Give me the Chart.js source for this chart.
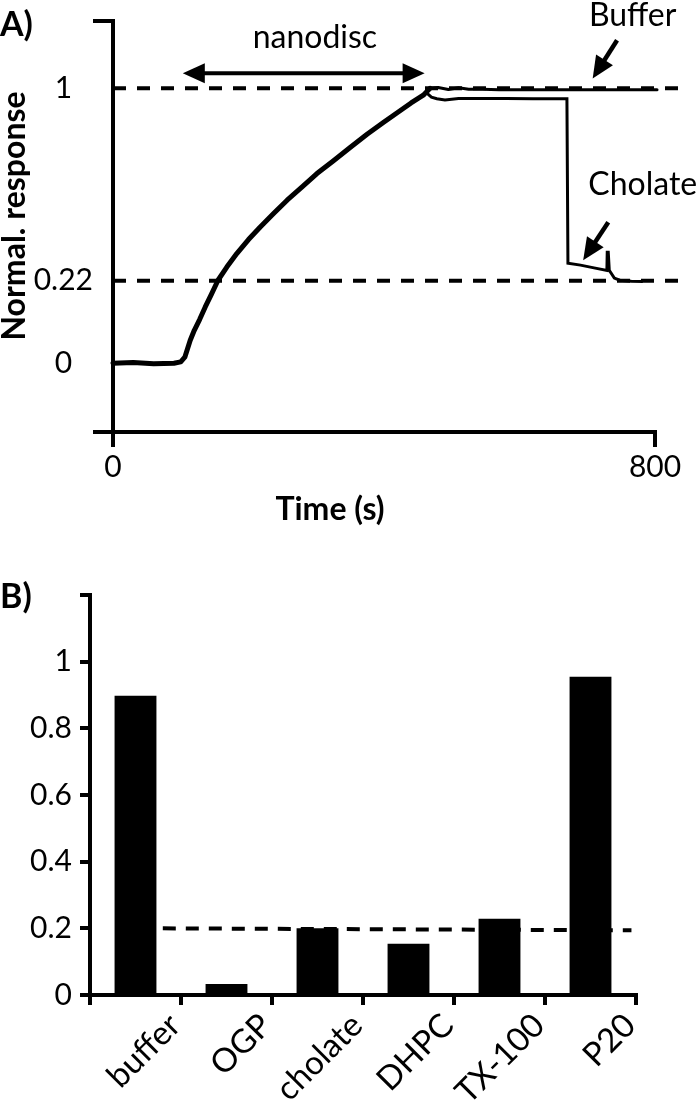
<!DOCTYPE html>
<html>
<head>
<meta charset="utf-8">
<script src="https://cdn.jsdelivr.net/npm/chart.js@4.4.1/dist/chart.umd.min.js"></script>
<style>
  html, body { margin: 0; padding: 0; background: #fff; }
  canvas { position: absolute; left: 0; display: block; }
  #panelA { top: 0; }
  #panelB { top: 545px; }
</style>
</head>
<body>
<canvas id="panelA" width="700" height="545"></canvas>
<canvas id="panelB" width="700" height="559"></canvas>
<script>
// ---------------- Panel A data (time in s, normalised response) ----------------
const bufferTime = [0, 30, 60, 90, 100, 106, 114, 120, 128, 136, 145, 155, 168, 183, 200, 217, 237, 257, 280, 301, 325, 350, 375, 399, 420, 440, 458, 468, 480, 495, 510, 525, 545, 570, 600, 650, 700, 750, 803];
const bufferResp = [0, 0.003, -0.002, 0, 0.005, 0.022, 0.084, 0.12, 0.16, 0.204, 0.25, 0.302, 0.35, 0.40, 0.45, 0.495, 0.545, 0.593, 0.643, 0.69, 0.736, 0.785, 0.833, 0.876, 0.912, 0.947, 0.975, 1.0, 1.003, 0.996, 1.002, 0.997, 0.997, 0.995, 0.995, 0.995, 0.995, 0.995, 0.995];
const cholateTime = [462, 470, 478, 490, 510, 540, 580, 620, 670, 671.5, 690, 710, 729, 729.5, 731, 732.5, 740, 748, 765, 782];
const cholateResp = [0.985, 0.968, 0.962, 0.958, 0.963, 0.963, 0.963, 0.962, 0.962, 0.364, 0.357, 0.347, 0.338, 0.404, 0.404, 0.338, 0.31, 0.302, 0.298, 0.297];
const refLineTime = [0, 841];
const refLevelFull = 1;       // "1" dashed line
const refLevelCholate = 0.30; // "0.22" dashed line (as drawn)
const xTickValues = [0, 800];
const xTickLabels = ['0', '800'];
const yTickValues = [0, 0.30, 1];
const yTickLabels = ['0', '0.22', '1'];

// ---------------- Panel B data ----------------
const categories = ['buffer', 'OGP', 'cholate', 'DHPC', 'TX-100', 'P20'];
const barValues = [0.898, 0.033, 0.200, 0.154, 0.229, 0.955];
const thresholdPos = [0.3, 5.45];       // in category index units
const thresholdValues = [0.2, 0.194];
const barYTickStep = 0.2;

// ---------------- Annotation placement (data units of panel A) ----------------
const nanodiscArrow = { from: 103, to: 460, y: 1.055 };
const nanodiscText = { t: 298, v: 1.185, text: 'nanodisc' };
const bufferArrow = { t1: 744, v1: 1.175, t2: 708, v2: 1.036 };
const bufferText = { t: 767, v: 1.265, text: 'Buffer' };
const cholateArrow = { t1: 731, v1: 0.513, t2: 694, v2: 0.375 };
const cholateText = { t: 782, v: 0.651, text: 'Cholate' };

Chart.defaults.font.family = "Lato, 'Open Sans', sans-serif";
Chart.defaults.color = '#000';

function arrowHead(ctx, x1, y1, x2, y2, len, half) {
  const a = Math.atan2(y2 - y1, x2 - x1);
  ctx.beginPath();
  ctx.moveTo(x2, y2);
  ctx.lineTo(x2 - len * Math.cos(a) + half * Math.sin(a), y2 - len * Math.sin(a) - half * Math.cos(a));
  ctx.lineTo(x2 - len * Math.cos(a) - half * Math.sin(a), y2 - len * Math.sin(a) + half * Math.cos(a));
  ctx.closePath();
  ctx.fill();
}
function arrow(ctx, x1, y1, x2, y2, both, w) {
  const len = 22, half = 10;
  const a = Math.atan2(y2 - y1, x2 - x1);
  const sx = both ? x1 + Math.cos(a) * len / 2 : x1;
  const sy = both ? y1 + Math.sin(a) * len / 2 : y1;
  ctx.lineWidth = w;
  ctx.beginPath();
  ctx.moveTo(sx, sy);
  ctx.lineTo(x2 - Math.cos(a) * len / 2, y2 - Math.sin(a) * len / 2);
  ctx.stroke();
  arrowHead(ctx, x1, y1, x2, y2, len, half);
  if (both) arrowHead(ctx, x2, y2, x1, y1, len, half);
}

const annotA = {
  id: 'annotA',
  afterDraw(chart) {
    const { ctx, scales: { x, y } } = chart;
    const X = v => x.getPixelForValue(v), Y = v => y.getPixelForValue(v);
    ctx.save();
    ctx.fillStyle = '#000';
    ctx.strokeStyle = '#000';
    arrow(ctx, X(nanodiscArrow.from), Y(nanodiscArrow.y), X(nanodiscArrow.to), Y(nanodiscArrow.y), true, 4);
    arrow(ctx, X(bufferArrow.t1), Y(bufferArrow.v1), X(bufferArrow.t2), Y(bufferArrow.v2), false, 4.5);
    arrow(ctx, X(cholateArrow.t1), Y(cholateArrow.v1), X(cholateArrow.t2), Y(cholateArrow.v2), false, 4.5);
    ctx.font = "32px Lato, 'Open Sans', sans-serif";
    ctx.textAlign = 'center';
    ctx.textBaseline = 'middle';
    [nanodiscText, bufferText, cholateText].forEach(o => ctx.fillText(o.text, X(o.t), Y(o.v)));
    // axis titles
    ctx.font = "bold 32px Lato, 'Open Sans', sans-serif";
    ctx.fillText('Time (s)', 330, 510);
    ctx.save();
    ctx.translate(15, 216);
    ctx.rotate(-Math.PI / 2);
    ctx.fillText('Normal. response', 0, 0);
    ctx.restore();
    // panel label
    ctx.textAlign = 'left';
    ctx.font = "bold 34px Lato, 'Open Sans', sans-serif";
    ctx.fillText('A)', 0, 25);
    ctx.restore();
  }
};

const pts = (xs, ys) => xs.map((t, i) => ({ x: t, y: ys[i] }));

new Chart(document.getElementById('panelA'), {
  type: 'line',
  data: {
    datasets: [
      {
        data: pts(bufferTime, bufferResp),
        borderColor: '#000', borderWidth: 5, pointRadius: 0, tension: 0, clip: false,
        borderCapStyle: 'round', borderJoinStyle: 'round',
        segment: { borderWidth: c => (c.p0.parsed.x >= 468 ? 3 : 5) }
      },
      {
        data: pts(cholateTime, cholateResp),
        borderColor: '#000', borderWidth: 3, pointRadius: 0, tension: 0, clip: false,
        borderJoinStyle: 'miter'
      },
      {
        data: pts(refLineTime, refLineTime.map(() => refLevelFull)),
        borderColor: '#000', borderWidth: 4, borderDash: [13, 11], pointRadius: 0, clip: false
      },
      {
        data: pts(refLineTime, refLineTime.map(() => refLevelCholate)),
        borderColor: '#000', borderWidth: 4, borderDash: [13, 11], pointRadius: 0, clip: false
      }
    ]
  },
  options: {
    responsive: false, animation: false, devicePixelRatio: 1,
    layout: { padding: { left: 0, top: 21, right: 45, bottom: 0 } },
    plugins: { legend: { display: false }, tooltip: { enabled: false } },
    scales: {
      x: {
        type: 'linear', min: 0, max: 800,
        afterFit: s => { s.height = 113; },
        afterBuildTicks: s => { s.ticks = xTickValues.map(v => ({ value: v })); },
        ticks: {
          font: { size: 30 }, color: '#000', padding: 2, maxRotation: 0,
          callback: v => { const i = xTickValues.indexOf(v); return i >= 0 ? xTickLabels[i] : ''; }
        },
        grid: { drawOnChartArea: false, tickLength: 15, tickColor: '#000', lineWidth: 4 },
        border: { color: '#000', width: 4 }
      },
      y: {
        type: 'linear', min: -0.25, max: 1.245,
        afterFit: s => { s.width = 113; },
        afterBuildTicks: s => { s.ticks = [s.min, ...yTickValues, s.max].map(v => ({ value: v })); },
        ticks: {
          font: { size: 30, lineHeight: 0.6 }, color: '#000', padding: 0, crossAlign: 'center',
          callback: v => { const i = yTickValues.indexOf(v); return i >= 0 ? yTickLabels[i] : ''; }
        },
        grid: {
          drawOnChartArea: false, tickLength: 20, lineWidth: 4,
          tickColor: c => (c.tick && (c.tick.value === -0.25 || c.tick.value === 1.245)) ? '#000' : 'rgba(0,0,0,0)'
        },
        border: { color: '#000', width: 4 }
      }
    }
  },
  plugins: [annotA]
});

const annotB = {
  id: 'annotB',
  afterDraw(chart) {
    const ctx = chart.ctx;
    ctx.save();
    ctx.fillStyle = '#000';
    ctx.textAlign = 'left';
    ctx.textBaseline = 'middle';
    ctx.font = "bold 34px Lato, 'Open Sans', sans-serif";
    ctx.fillText('B)', 0, 52);
    ctx.restore();
  }
};

new Chart(document.getElementById('panelB'), {
  type: 'bar',
  data: {
    datasets: [
      {
        type: 'line',
        data: pts(thresholdPos, thresholdValues),
        borderColor: '#000', borderWidth: 4, borderDash: [13, 10], pointRadius: 0, clip: false, order: 2
      },
      {
        type: 'bar', data: pts(categories.map((c, i) => i), barValues), backgroundColor: '#000', borderWidth: 0,
        barPercentage: 0.46, categoryPercentage: 1, grouped: false, order: 1
      }
    ]
  },
  options: {
    responsive: false, animation: false, devicePixelRatio: 1,
    layout: { padding: { left: 0, top: 50, right: 64, bottom: 0 } },
    plugins: { legend: { display: false }, tooltip: { enabled: false } },
    scales: {
      x: {
        type: 'linear', min: -0.5, max: categories.length - 0.5, offset: false,
        afterFit: s => { s.height = 109; },
        afterBuildTicks: s => { s.ticks = [-0.5, ...categories.map((c, i) => i + 0.5)].map(v => ({ value: v })); },
        ticks: {
          font: { size: 33 }, color: '#000', minRotation: 45, maxRotation: 45, labelOffset: -6, padding: 1, autoSkip: false,
          callback: v => { const i = Math.round(v - 0.5); return i >= 0 && i < categories.length ? categories[i] : ''; }
        },
        grid: { offset: false, drawOnChartArea: false, tickLength: 10, tickColor: '#000', lineWidth: 4 },
        border: { color: '#000', width: 4 }
      },
      y: {
        min: 0, max: 1.2,
        afterFit: s => { s.width = 90; },
        ticks: {
          stepSize: barYTickStep, font: { size: 30 }, color: '#000', padding: 8,
          callback: v => (v > 1.1 ? '' : String(Math.round(v * 10) / 10))
        },
        grid: { drawOnChartArea: false, tickLength: 10, tickColor: '#000', lineWidth: 4 },
        border: { color: '#000', width: 4 }
      }
    }
  },
  plugins: [annotB]
});
</script>
</body>
</html>
